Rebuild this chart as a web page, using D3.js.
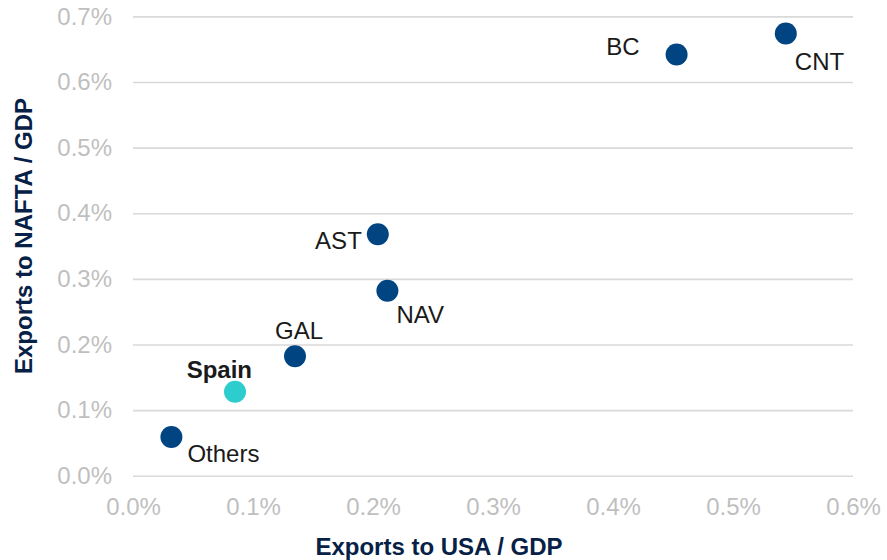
<!DOCTYPE html>
<html>
<head>
<meta charset="utf-8">
<script src="https://cdn.jsdelivr.net/npm/d3@7"></script>
<style>
  body { margin: 0; background: #fff; }
  svg { font-family: "Liberation Sans", Arial, sans-serif; }
</style>
</head>
<body>
<div id="chart"></div>
<script>
// regions, exports to USA / GDP (x, %) and exports to NAFTA / GDP (y, %)
var names  = ["Others", "Spain", "GAL", "AST", "NAV", "BC", "CNT"];
var usa    = [0.032, 0.085, 0.135, 0.204, 0.212, 0.453, 0.544];
var nafta  = [0.059, 0.128, 0.182, 0.368, 0.282, 0.642, 0.674];
var xTicks = [0, 0.1, 0.2, 0.3, 0.4, 0.5, 0.6];
var yTicks = [0, 0.1, 0.2, 0.3, 0.4, 0.5, 0.6, 0.7];

// label placement relative to each dot
var labelPos = {
  Others: {dx: 16, dy: 25, anchor: "start"},
  Spain:  {dx: 17, dy: -14, anchor: "end", bold: true},
  GAL:    {dx: 4, dy: -17, anchor: "middle"},
  AST:    {dx: -16, dy: 15, anchor: "end"},
  NAV:    {dx: 9, dy: 32, anchor: "start"},
  BC:     {dx: -37, dy: 1, anchor: "end"},
  CNT:    {dx: 9, dy: 37, anchor: "start"}
};

var W = 887, H = 560,
    margin = {top: 16.4, right: 34, bottom: 84.3, left: 133},
    width = W - margin.left - margin.right,
    height = H - margin.top - margin.bottom;

var svg = d3.select("#chart").append("svg")
    .attr("width", W)
    .attr("height", H);

var g = svg.append("g")
    .attr("transform", "translate(" + margin.left + "," + margin.top + ")");

var x = d3.scaleLinear().domain([0, 0.6]).range([0, width]);
var y = d3.scaleLinear().domain([0, 0.7]).range([height, 0]);

var fmt = function(d) { return d3.format(".1f")(d) + "%"; };

// horizontal gridlines + y tick labels
var yAxis = g.append("g")
    .call(d3.axisLeft(y).tickValues(yTicks).tickFormat(fmt)
      .tickSizeInner(-width).tickSizeOuter(0).tickPadding(21));
yAxis.select(".domain").remove();
yAxis.selectAll("line").attr("stroke", "#d9d9d9").attr("stroke-width", 1.6);
yAxis.selectAll("text").attr("fill", "#bfbfbf").style("font-size", "24px");

// x tick labels only
var xAxis = g.append("g")
    .attr("transform", "translate(0," + height + ")")
    .call(d3.axisBottom(x).tickValues(xTicks).tickFormat(fmt)
      .tickSize(0).tickPadding(22));
xAxis.select(".domain").remove();
xAxis.selectAll("text").attr("fill", "#bfbfbf").style("font-size", "24px");

var pts = names.map(function(n, i) { return {name: n, x: usa[i], y: nafta[i]}; });

g.selectAll("circle.dot")
    .data(pts)
  .enter().append("circle")
    .attr("class", "dot")
    .attr("cx", function(d) { return x(d.x); })
    .attr("cy", function(d) { return y(d.y); })
    .attr("r", 11)
    .attr("fill", function(d) { return d.name === "Spain" ? "#2dcccd" : "#004481"; });

g.selectAll("text.lbl")
    .data(pts)
  .enter().append("text")
    .attr("class", "lbl")
    .attr("x", function(d) { return x(d.x) + labelPos[d.name].dx; })
    .attr("y", function(d) { return y(d.y) + labelPos[d.name].dy; })
    .attr("text-anchor", function(d) { return labelPos[d.name].anchor; })
    .attr("fill", "#1a1a1a")
    .style("font-size", "24px")
    .style("font-weight", function(d) { return labelPos[d.name].bold ? "bold" : "normal"; })
    .text(function(d) { return d.name; });

// axis titles
svg.append("text")
    .attr("x", 439)
    .attr("y", 555)
    .attr("text-anchor", "middle")
    .attr("fill", "#072146")
    .style("font-size", "24px")
    .style("font-weight", "bold")
    .text("Exports to USA / GDP");

svg.append("text")
    .attr("transform", "translate(32,236) rotate(-90)")
    .attr("text-anchor", "middle")
    .attr("fill", "#072146")
    .style("font-size", "24px")
    .style("font-weight", "bold")
    .text("Exports to NAFTA / GDP");
</script>
</body>
</html>
